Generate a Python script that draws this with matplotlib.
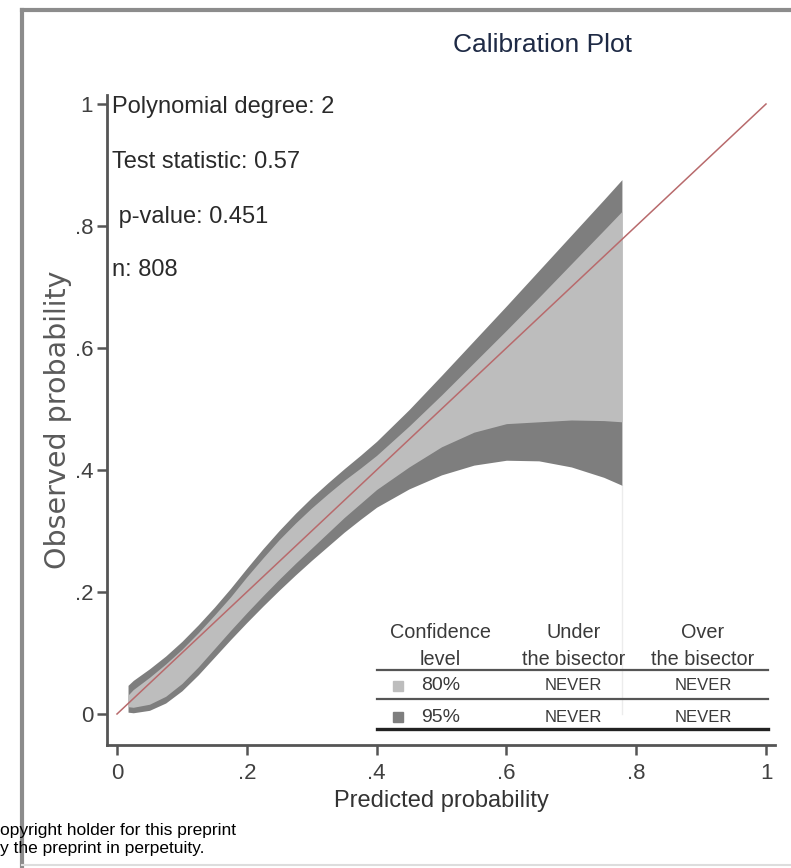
import matplotlib
matplotlib.use("Agg")
import matplotlib.pyplot as plt
from matplotlib.lines import Line2D

FONT = "Liberation Sans"

# predicted probability grid of the confidence bands
pred = [0.017, 0.025, 0.05, 0.075, 0.10, 0.125, 0.15, 0.175, 0.20, 0.225, 0.25,
        0.275, 0.30, 0.325, 0.35, 0.375, 0.40, 0.45, 0.50, 0.55, 0.60, 0.65,
        0.70, 0.75, 0.778]
upper95 = [0.047, 0.055, 0.074, 0.095, 0.119, 0.146, 0.175, 0.206, 0.239, 0.271,
           0.301, 0.329, 0.355, 0.379, 0.402, 0.424, 0.447, 0.499, 0.555, 0.612,
           0.669, 0.727, 0.785, 0.843, 0.876]
upper80 = [0.031, 0.040, 0.060, 0.082, 0.106, 0.133, 0.162, 0.192, 0.225, 0.256,
           0.286, 0.313, 0.338, 0.361, 0.383, 0.403, 0.424, 0.472, 0.523, 0.576,
           0.629, 0.683, 0.738, 0.793, 0.824]
lower80 = [0.012, 0.011, 0.016, 0.029, 0.050, 0.077, 0.107, 0.137, 0.166, 0.194,
           0.221, 0.247, 0.272, 0.297, 0.322, 0.345, 0.368, 0.405, 0.438, 0.462,
           0.476, 0.479, 0.482, 0.481, 0.479]
lower95 = [0.003, 0.002, 0.006, 0.018, 0.038, 0.064, 0.093, 0.122, 0.150, 0.177,
           0.203, 0.228, 0.252, 0.275, 0.298, 0.319, 0.339, 0.369, 0.392, 0.408,
           0.416, 0.415, 0.405, 0.388, 0.375]
bisector = [0, 1]

stats = ["Polynomial degree: 2", "Test statistic: 0.57", " p-value: 0.451", "n: 808"]
ticks = [0, 0.2, 0.4, 0.6, 0.8, 1]
tick_labels = ["0", ".2", ".4", ".6", ".8", "1"]

table_header = [["Confidence", "level"], ["Under", "the bisector"], ["Over", "the bisector"]]
table_rows = [["80%", "NEVER", "NEVER"], ["95%", "NEVER", "NEVER"]]

light = "#bdbdbd"
dark = "#7e7e7e"
text_col = "#3a3a3a"

fig = plt.figure(figsize=(7.91, 8.68), dpi=100)
ax = fig.add_axes([107 / 791, 1 - 745 / 868, 668 / 791, 650 / 868])
ax.set_xlim(-10 / 649, 658 / 649)
ax.set_ylim(-31 / 610, 619 / 610)

# confidence bands and bisector
ax.fill_between(pred, lower95, upper95, color=dark, lw=0, zorder=2)
ax.fill_between(pred, lower80, upper80, color=light, lw=0, zorder=3)
ax.plot([pred[-1], pred[-1]], [0, lower95[-1]], color="#ececec", lw=1, zorder=1)
ax.plot(bisector, bisector, color="#b86a6c", lw=1.1, zorder=4)

# axes styling
for s in ["top", "right"]:
    ax.spines[s].set_visible(False)
for s in ["left", "bottom"]:
    ax.spines[s].set_color("#555555")
    ax.spines[s].set_linewidth(2)
ax.set_xticks(ticks)
ax.set_xticklabels(tick_labels)
ax.set_yticks(ticks)
ax.set_yticklabels(tick_labels)
ax.tick_params(direction="out", length=7, width=1.8, color="#555555",
               labelcolor="#404040", labelsize=16)
ax.tick_params(axis="x", pad=6)
ax.tick_params(axis="y", pad=3)
for lab in ax.get_xticklabels() + ax.get_yticklabels():
    lab.set_fontfamily(FONT)

ax.set_xlabel("Predicted probability", fontsize=17, family=FONT,
              color="#333333", labelpad=4)
ax.set_ylabel("Observed probability", fontsize=20.5, family="DejaVu Sans",
              color="#5a5a5a", labelpad=2)

ax.text(0.655, 1.097, "Calibration Plot", ha="center", va="center",
        fontsize=19, family=FONT, color="#1e2a45", clip_on=False)

# statistics text
stat_y = [0.995, 0.905, 0.815, 0.728]
for t, y in zip(stats, stat_y):
    ax.text(-0.008, y, t, ha="left", va="center", fontsize=17,
            family=FONT, color="#2a2a2a")

# summary table
col_x = [0.498, 0.703, 0.903]
x0, x1 = 0.401, 1.003
for cx, (h1, h2) in zip(col_x, table_header):
    ax.text(cx, 0.134, h1, ha="center", va="center", fontsize=14.3,
            family=FONT, color=text_col)
    ax.text(cx, 0.090, h2, ha="center", va="center", fontsize=14.3,
            family=FONT, color=text_col)
row_y = [0.046, -0.005]
for ry, row, c in zip(row_y, table_rows, [light, dark]):
    ax.plot(0.433, ry, marker="s", ms=7, color=c, mec=c)
    for i, (cx, t) in enumerate(zip(col_x, row)):
        ax.text(cx, ry, t, ha="center", va="center",
                fontsize=14 if i == 0 else 12, family=FONT, color=text_col)
for ly, lw, lc in [(0.072, 1.6, "#555555"), (0.0246, 1.6, "#555555"),
                   (-0.0246, 2.4, "#222222")]:
    ax.plot([x0, x1], [ly, ly], color=lc, lw=lw, clip_on=False, zorder=5)

# outer frame of the screenshot
fig.add_artist(Line2D([22 / 791, 1.0], [1 - 10 / 868] * 2, color="#8c8c8c", lw=3))
fig.add_artist(Line2D([22 / 791] * 2, [0, 1 - 10 / 868], color="#8c8c8c", lw=3))
fig.add_artist(Line2D([22 / 791, 1.0], [1 - 865 / 868] * 2, color="#dddddd", lw=1.5))

fig.text(0, 1 - 830 / 868, "opyright holder for this preprint",
         fontsize=12.5, family=FONT, color="black", va="center")
fig.text(0, 1 - 849 / 868, "y the preprint in perpetuity.",
         fontsize=12.5, family=FONT, color="black", va="center")

fig.savefig("out.png", dpi=100)
